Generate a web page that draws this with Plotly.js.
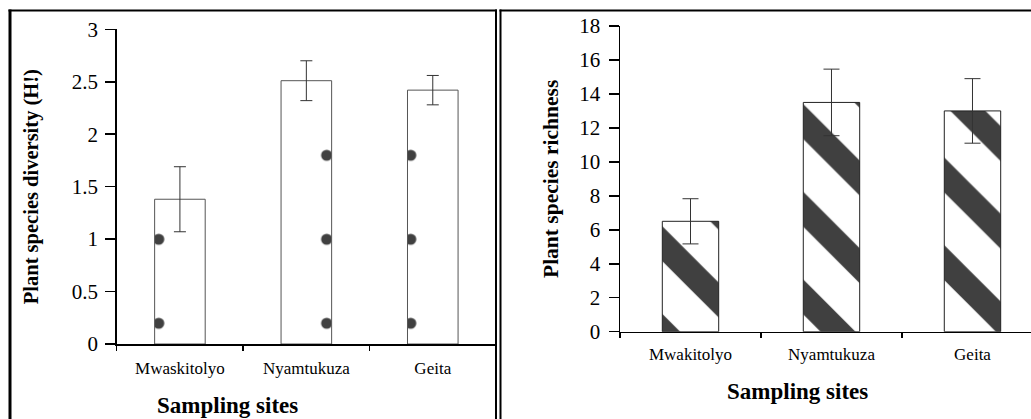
<!DOCTYPE html>
<html>
<head>
<meta charset="utf-8">
<script src="https://cdn.plot.ly/plotly-3.0.1.min.js"></script>
<style>
  html, body { margin: 0; padding: 0; background: #ffffff; }
  #chart { width: 1031px; height: 419px; }
  #chart text, #chart tspan { font-family: 'Liberation Serif', 'Times New Roman', serif !important; }
</style>
</head>
<body>
<div id="chart"></div>
<script>
// ---- data ----
const sitesDiversity = ['Mwaskitolyo', 'Nyamtukuza', 'Geita'];
const diversityValues = [1.38, 2.51, 2.42];
const diversityErrors = [0.31, 0.19, 0.14];
const diversityTicks = [0, 0.5, 1, 1.5, 2, 2.5, 3];
const diversityTickText = ['0', '0.5', '1', '1.5', '2', '2.5', '3'];

const sitesRichness = ['Mwakitolyo', 'Nyamtukuza', 'Geita'];
const richnessValues = [6.5, 13.5, 13.0];
const richnessErrors = [1.33, 1.96, 1.9];
const richnessTicks = [0, 2, 4, 6, 8, 10, 12, 14, 16, 18];
const richnessTickText = ['0', '2', '4', '6', '8', '10', '12', '14', '16', '18'];

const yTitleLeft = 'Plant species diversity (H!)';
const yTitleRight = 'Plant species richness';
const xTitle = 'Sampling sites';

// ---- layout helpers (pixel -> paper) ----
const W = 1031, H = 419;
const px = v => v / W;
const py = v => 1 - v / H;
const serifFamily = 'Liberation Serif';

const traces = [
  {
    type: 'bar',
    x: sitesDiversity,
    y: diversityValues,
    xaxis: 'x', yaxis: 'y',
    width: 0.4,
    marker: {
      color: '#ffffff',
      line: { color: '#555555', width: 1 },
      pattern: { shape: '.', fgcolor: '#404040', bgcolor: '#ffffff', size: 84, solidity: 0.014 }
    },
    error_y: { type: 'data', array: diversityErrors, visible: true, color: '#333333', thickness: 1, width: 6 },
    hoverinfo: 'x+y',
    showlegend: false
  },
  {
    type: 'bar',
    x: sitesRichness,
    y: richnessValues,
    xaxis: 'x2', yaxis: 'y2',
    width: 0.4,
    marker: {
      color: '#ffffff',
      line: { color: '#222222', width: 1 },
      pattern: { shape: '\\', fgcolor: '#404040', bgcolor: '#ffffff', size: 62, solidity: 0.4 }
    },
    error_y: { type: 'data', array: richnessErrors, visible: true, color: '#333333', thickness: 1, width: 8 },
    hoverinfo: 'x+y',
    showlegend: false
  }
];

const axisCommon = {
  showgrid: false,
  zeroline: false,
  showline: true,
  linecolor: '#000000',
  linewidth: 1.5,
  ticks: 'outside',
  tickcolor: '#000000',
  tickwidth: 1.5,
  fixedrange: true
};

const layout = {
  width: W,
  height: H,
  margin: { l: 0, r: 0, t: 0, b: 0, pad: 0 },
  paper_bgcolor: '#ffffff',
  plot_bgcolor: '#ffffff',
  font: { family: serifFamily, color: '#000000' },
  bargap: 0.6,
  xaxis: Object.assign({}, axisCommon, {
    domain: [px(116.7), px(496)],
    anchor: 'y',
    type: 'category',
    range: [-0.5, 2.5],
    tickson: 'boundaries',
    ticklen: 5,
    tickfont: { family: serifFamily, size: 17, color: '#000000' },
    ticklabelstandoff: 8
  }),
  yaxis: Object.assign({}, axisCommon, {
    domain: [py(344), py(29.3)],
    anchor: 'x',
    range: [0, 3],
    tickmode: 'array',
    tickvals: diversityTicks,
    ticktext: diversityTickText,
    ticklen: 10,
    ticklabelstandoff: 3,
    tickfont: { family: serifFamily, size: 21, color: '#000000' },
    title: { text: yTitleLeft, font: { family: serifFamily, size: 20.5, color: '#000000', weight: 'bold' }, standoff: 27 }
  }),
  xaxis2: Object.assign({}, axisCommon, {
    domain: [px(620), 1],
    anchor: 'y2',
    type: 'category',
    range: [-0.5, 2.415],
    tickson: 'boundaries',
    ticklen: 5,
    tickfont: { family: serifFamily, size: 17, color: '#000000' },
    ticklabelstandoff: 6
  }),
  yaxis2: Object.assign({}, axisCommon, {
    domain: [py(331.7), py(26)],
    anchor: 'x2',
    range: [0, 18],
    tickmode: 'array',
    tickvals: richnessTicks,
    ticktext: richnessTickText,
    ticklen: 10,
    ticklabelstandoff: 4,
    tickfont: { family: serifFamily, size: 21, color: '#000000' },
    title: { text: yTitleRight, font: { family: serifFamily, size: 21.5, color: '#000000', weight: 'bold' }, standoff: 15 }
  }),
  annotations: [
    { text: '<b>' + xTitle + '</b>', xref: 'paper', yref: 'paper', x: px(227), y: py(405),
      xanchor: 'center', yanchor: 'middle', showarrow: false,
      font: { family: serifFamily, size: 23, color: '#000000' } },
    { text: '<b>' + xTitle + '</b>', xref: 'paper', yref: 'paper', x: px(797), y: py(391),
      xanchor: 'center', yanchor: 'middle', showarrow: false,
      font: { family: serifFamily, size: 23, color: '#000000' } }
  ],
  shapes: [
    // left panel frame
    { type: 'line', xref: 'paper', yref: 'paper', x0: px(10), x1: px(10), y0: 0, y1: py(9.5), line: { color: '#000000', width: 3 } },
    { type: 'line', xref: 'paper', yref: 'paper', x0: px(8.5), x1: px(497), y0: py(10.5), y1: py(10.5), line: { color: '#000000', width: 2 } },
    // double separator
    { type: 'line', xref: 'paper', yref: 'paper', x0: px(496), x1: px(496), y0: 0, y1: py(9.5), line: { color: '#000000', width: 2 } },
    { type: 'line', xref: 'paper', yref: 'paper', x0: px(500.5), x1: px(500.5), y0: 0, y1: py(9.5), line: { color: '#000000', width: 2 } },
    // right panel top
    { type: 'line', xref: 'paper', yref: 'paper', x0: px(499.5), x1: 1, y0: py(10.5), y1: py(10.5), line: { color: '#000000', width: 2 } }
  ]
};

Plotly.newPlot('chart', traces, layout, { staticPlot: true, displayModeBar: false });
</script>
</body>
</html>
